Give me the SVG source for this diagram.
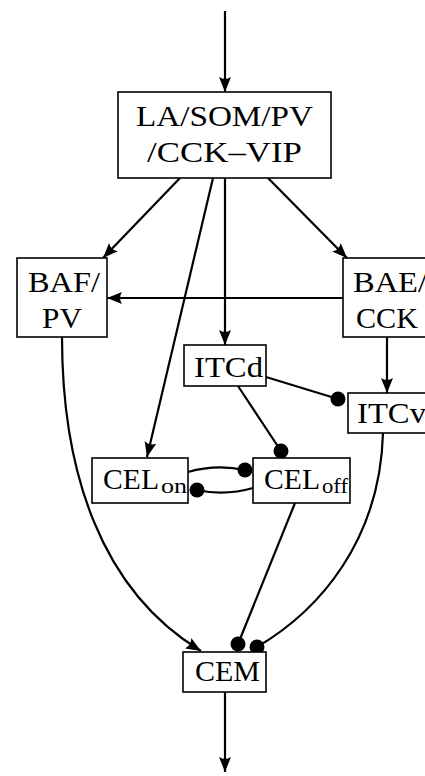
<svg xmlns="http://www.w3.org/2000/svg" width="425" height="776" viewBox="0 0 425 776">
  <style>
    .box { fill: #fff; stroke: #000; stroke-width: 1.6; }
    .lbl { font-family: "Liberation Serif", "Times New Roman", serif; font-size: 30px; fill: #000; }
    .sub { font-family: "Liberation Serif", "Times New Roman", serif; font-size: 20px; fill: #000; }
    .edge { fill: none; stroke: #000; stroke-width: 2.2; }
    .arrow { marker-end: url(#head); }
    .inhib { fill: #000; }
  </style>
  <defs>
    <marker id="head" markerUnits="userSpaceOnUse" markerWidth="20" markerHeight="16" viewBox="-16 -8 18 16" refX="0" refY="0" orient="auto">
      <path d="M0,0 L-15,-6 Q-11,0 -15,6 Z" fill="#000"/>
    </marker>
  </defs>

  <!-- connectors -->
  <g id="connectors">
    <path class="edge arrow" d="M225,11 L225,92"/>
    <path class="edge arrow" d="M180,178 L103,258"/>
    <path class="edge arrow" d="M268,178 L347,258"/>
    <path class="edge arrow" d="M225,178 L225,345"/>
    <path class="edge arrow" d="M213,178 L147,457"/>
    <path class="edge arrow" d="M343,298 L107,298"/>
    <path class="edge arrow" d="M387,337 L387,393"/>
    <path class="edge" d="M266,377 L338,399"/>
    <circle class="inhib" cx="338" cy="399" r="7.5"/>
    <path class="edge" d="M238,386 L281,451"/>
    <circle class="inhib" cx="281" cy="451" r="7.5"/>
    <path class="edge" d="M188,472 Q216,464 245,470"/>
    <circle class="inhib" cx="245" cy="470" r="7.5"/>
    <path class="edge" d="M253,488 Q225,496 197,490"/>
    <circle class="inhib" cx="197" cy="490" r="7.5"/>
    <path class="edge arrow" d="M62,337 C62,470 100,590 201,651"/>
    <path class="edge" d="M295,503 Q268,570 238,644"/>
    <circle class="inhib" cx="238" cy="644" r="7.5"/>
    <path class="edge" d="M383,433 C380,540 320,610 257,647"/>
    <circle class="inhib" cx="257" cy="647" r="7.5"/>
    <path class="edge arrow" d="M225,692 L225,772"/>
  </g>

  <!-- nodes -->
  <g id="node-la">
    <rect class="box" x="118" y="92" width="213" height="86"/>
    <text class="lbl" x="136" y="126" textLength="177" lengthAdjust="spacingAndGlyphs">LA/SOM/PV</text>
    <text class="lbl" x="147" y="162" textLength="155" lengthAdjust="spacingAndGlyphs">/CCK–VIP</text>
  </g>
  <g id="node-baf">
    <rect class="box" x="17" y="258" width="90" height="79"/>
    <text class="lbl" x="28" y="292" textLength="72" lengthAdjust="spacingAndGlyphs">BAF/</text>
    <text class="lbl" x="42" y="328" textLength="40" lengthAdjust="spacingAndGlyphs">PV</text>
  </g>
  <g id="node-bae">
    <rect class="box" x="343" y="258" width="90" height="79"/>
    <text class="lbl" x="353" y="292" textLength="74" lengthAdjust="spacingAndGlyphs">BAE/</text>
    <text class="lbl" x="356" y="328" textLength="62" lengthAdjust="spacingAndGlyphs">CCK</text>
  </g>
  <g id="node-itcd">
    <rect class="box" x="184" y="345" width="82" height="41"/>
    <text class="lbl" x="194" y="377" textLength="69" lengthAdjust="spacingAndGlyphs">ITCd</text>
  </g>
  <g id="node-itcv">
    <rect class="box" x="348" y="393" width="85" height="40"/>
    <text class="lbl" x="357" y="423" textLength="69" lengthAdjust="spacingAndGlyphs">ITCv</text>
  </g>
  <g id="node-celon">
    <rect class="box" x="92" y="458" width="96" height="45"/>
    <text class="lbl" x="103" y="489" textLength="56" lengthAdjust="spacingAndGlyphs">CEL</text>
    <text class="sub" x="161" y="493" textLength="26" lengthAdjust="spacingAndGlyphs">on</text>
  </g>
  <g id="node-celoff">
    <rect class="box" x="253" y="458" width="97" height="45"/>
    <text class="lbl" x="264" y="489" textLength="56" lengthAdjust="spacingAndGlyphs">CEL</text>
    <text class="sub" x="322" y="493" textLength="26" lengthAdjust="spacingAndGlyphs">off</text>
  </g>
  <g id="node-cem">
    <rect class="box" x="183" y="652" width="83" height="40"/>
    <text class="lbl" x="195" y="681" textLength="65" lengthAdjust="spacingAndGlyphs">CEM</text>
  </g>
</svg>
